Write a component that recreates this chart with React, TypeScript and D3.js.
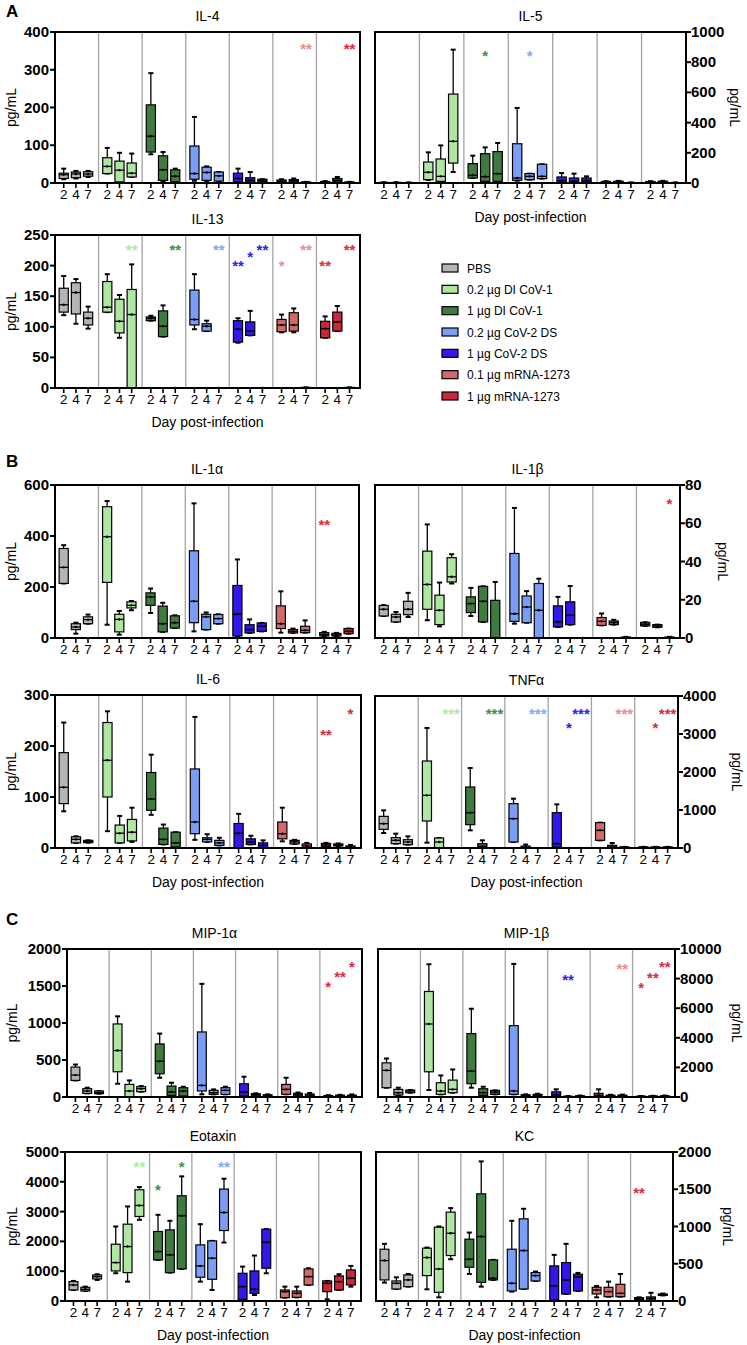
import React from 'react';
import * as d3 from 'd3';

const groups = ['PBS', '0.2 µg DI CoV-1', '1 µg DI CoV-1', '0.2 µg CoV-2 DS', '1 µg CoV-2 DS', '0.1 µg mRNA-1273', '1 µg mRNA-1273'];
const days = ['2', '4', '7'];
const fillColors = ['#b4b4b4', '#aee6a2', '#3f7a3f', '#7b9df5', '#3318ee', '#d36a6a', '#c9283a'];
const starColors = ['#888888', '#a8ec9c', '#3f8f3f', '#80a8ff', '#2a20f0', '#ea8c8c', '#e0283c'];

// each box: [min, q1, median, q3, max], ordered group by group, days 2/4/7
type Box = number[];
type Star = [number, number, string, number, number]; // group, day index, text, color index, value

const il4: Box[] = [
  [10, 12, 22, 26, 38], [12, 14, 24, 29, 32], [16, 18, 24, 30, 32],
  [25, 25, 44, 67, 93], [0, 3, 34, 58, 80], [16, 16, 26, 53, 78],
  [76, 82, 124, 207, 291], [5, 7, 35, 72, 82], [2, 3, 18, 35, 38],
  [6, 10, 25, 98, 175], [5, 7, 28, 42, 44], [4, 5, 19, 29, 29],
  [2, 3, 12, 26, 38], [1, 2, 7, 14, 29], [2, 3, 7, 10, 10],
  [2, 3, 5, 8, 10], [2, 3, 6, 9, 12], [0, 0, 1, 3, 3],
  [0, 1, 2, 4, 5], [2, 3, 7, 12, 16], [0, 0, 1, 3, 3],
];
const il4Stars: Star[] = [[5, 2, '**', 5, 365], [6, 2, '**', 6, 365]];

const il5: Box[] = [
  [0, 0, 2, 4, 5], [0, 0, 2, 4, 5], [0, 0, 1, 3, 4],
  [20, 22, 71, 139, 203], [8, 11, 44, 159, 249], [73, 132, 276, 589, 883],
  [33, 33, 51, 128, 181], [10, 11, 42, 194, 236], [5, 11, 62, 208, 265],
  [15, 18, 33, 260, 497], [22, 22, 44, 62, 62], [29, 29, 44, 124, 124],
  [2, 4, 15, 40, 66], [2, 4, 12, 33, 62], [2, 4, 15, 33, 44],
  [1, 2, 5, 10, 12], [1, 2, 6, 12, 14], [0, 0, 1, 3, 4],
  [1, 2, 5, 10, 12], [1, 2, 6, 12, 14], [0, 0, 1, 3, 4],
];
const il5Stars: Star[] = [[2, 1, '*', 2, 861], [3, 1, '*', 3, 861]];

const il13: Box[] = [
  [119, 124, 136, 163, 183], [105, 121, 156, 172, 178], [97, 103, 114, 124, 133],
  [124, 124, 132, 174, 186], [82, 90, 109, 145, 152], [0, 0, 120, 161, 202],
  [110, 110, 114, 116, 118], [84, 84, 101, 126, 135], [0, 0, 0, 0, 0],
  [96, 103, 112, 160, 186], [93, 93, 101, 105, 110], [0, 0, 0, 0, 0],
  [74, 75, 96, 110, 114], [86, 86, 93, 108, 126], [0, 0, 0, 0, 0],
  [91, 92, 103, 112, 120], [91, 93, 103, 123, 130], [0, 0, 0, 1, 1],
  [82, 82, 97, 109, 117], [93, 93, 108, 124, 134], [0, 0, 0, 1, 1],
];
const il13Stars: Star[] = [
  [1, 2, '**', 1, 231], [2, 2, '**', 2, 231], [3, 2, '**', 3, 231],
  [4, 0, '**', 4, 205], [4, 1, '*', 4, 220], [4, 2, '**', 4, 231],
  [5, 0, '*', 5, 205], [5, 2, '**', 5, 231], [6, 0, '**', 6, 205], [6, 2, '**', 6, 231],
];

const il1a: Box[] = [
  [214, 214, 277, 351, 364], [17, 33, 43, 56, 60], [56, 56, 72, 83, 92],
  [52, 218, 397, 515, 537], [13, 24, 73, 93, 106], [109, 118, 128, 142, 145],
  [98, 128, 161, 177, 194], [24, 24, 56, 125, 138], [39, 39, 60, 87, 89],
  [26, 60, 144, 342, 528], [33, 33, 83, 93, 100], [56, 56, 76, 92, 93],
  [5, 8, 93, 206, 308], [20, 20, 33, 52, 73], [26, 26, 46, 59, 59],
  [21, 37, 56, 126, 183], [20, 20, 26, 33, 37], [21, 21, 30, 46, 69],
  [8, 8, 13, 21, 24], [8, 8, 12, 18, 20], [17, 17, 26, 37, 37],
];
const il1aStars: Star[] = [[6, 0, '**', 6, 456]];

const il1b: Box[] = [
  [11.5, 11.5, 15, 17, 17.2], [8.4, 8.4, 11, 12.4, 13.6], [11, 12.2, 15, 19.2, 23.6],
  [9.3, 15, 28, 45.4, 59.4], [6.1, 7, 14.5, 22.4, 29], [28.5, 29.3, 32, 42, 43.8],
  [11.5, 13.3, 18, 21.5, 26.2], [8.4, 8.4, 19.2, 27, 27], [0, 0, 0, 19.7, 29.3],
  [7.5, 8.7, 12.7, 44.2, 68], [8, 8, 16.2, 22, 24.5], [0, 0, 14.5, 28.5, 31],
  [5.8, 5.8, 8.4, 16.8, 21.5], [7, 7, 11.9, 18.9, 27.2], [0, 0, 0, 0, 0],
  [6.6, 6.6, 8.7, 10.7, 12.8], [7, 7, 8, 8.9, 9.5], [0, 0, 0.2, 0.5, 0.6],
  [6.3, 6.3, 7.2, 8.2, 8.2], [5.6, 5.6, 6.3, 7, 7], [0, 0, 0.2, 0.5, 0.6],
];
const il1bStars: Star[] = [[6, 2, '*', 6, 71.8]];

const il6: Box[] = [
  [72, 87, 119, 187, 246], [10, 10, 17, 22, 23], [10.5, 10.5, 13, 15, 15],
  [33, 100, 172, 246, 268], [10, 10, 29, 45, 63], [12, 14, 31, 56, 79],
  [65, 74, 96, 148, 183], [7, 7, 17, 39, 46], [2, 2, 10, 31, 31],
  [16, 28, 51, 155, 257], [12, 12, 17, 20, 27], [5, 5, 10, 15, 20],
  [0, 0, 29, 48, 67], [7, 7, 12, 18, 24], [0, 0, 5, 10, 15],
  [13, 18, 28, 51, 79], [8, 8, 12, 15, 16], [0, 0, 4, 8, 10],
  [3, 3, 6, 9, 10], [4, 4, 6, 8, 9], [0, 0, 2, 4, 6],
];
const il6Stars: Star[] = [[6, 0, '**', 6, 229], [6, 2, '*', 6, 270]];

const tnfa: Box[] = [
  [395, 491, 640, 833, 991], [114, 114, 202, 272, 377], [88, 88, 158, 219, 307],
  [140, 711, 1386, 2289, 3158], [0, 0, 158, 263, 263], [0, 0, 0, 0, 0],
  [465, 614, 930, 1605, 2105], [0, 0, 44, 114, 202], [0, 0, 0, 0, 0],
  [158, 158, 772, 1167, 1298], [0, 0, 20, 50, 90], [0, 0, 0, 0, 0],
  [0, 26, 114, 930, 1149], [0, 0, 0, 0, 0], [0, 0, 0, 0, 0],
  [202, 202, 465, 667, 667], [0, 0, 30, 70, 132], [0, 0, 10, 30, 30],
  [0, 0, 10, 30, 30], [0, 0, 10, 30, 30], [0, 0, 10, 30, 30],
];
const tnfaStars: Star[] = [
  [1, 2, '***', 1, 3623], [2, 2, '***', 2, 3623], [3, 2, '***', 3, 3623],
  [4, 2, '***', 4, 3623], [4, 1, '*', 4, 3254], [5, 2, '***', 5, 3623],
  [6, 2, '***', 6, 3623], [6, 1, '*', 6, 3254],
];

const mip1a: Box[] = [
  [224, 224, 296, 404, 439], [49, 49, 81, 112, 126], [45, 45, 58, 81, 81],
  [179, 341, 628, 987, 1090], [0, 0, 81, 170, 224], [72, 72, 112, 139, 148],
  [260, 314, 484, 717, 857], [22, 22, 67, 148, 193], [13, 13, 81, 126, 139],
  [36, 81, 157, 879, 1529], [36, 36, 58, 90, 103], [36, 36, 90, 126, 139],
  [0, 13, 67, 179, 274], [10, 10, 30, 45, 50], [5, 5, 15, 30, 35],
  [36, 36, 103, 170, 260], [10, 15, 30, 50, 60], [10, 10, 25, 40, 55],
  [5, 5, 12, 20, 25], [5, 5, 15, 25, 30], [5, 5, 15, 25, 35],
];
const mip1aStars: Star[] = [[6, 0, '*', 6, 1538], [6, 1, '**', 6, 1664], [6, 2, '*', 6, 1807]];

const mip1b: Box[] = [
  [628, 628, 1800, 2309, 2600], [135, 135, 291, 516, 628], [291, 291, 403, 470, 470],
  [471, 1704, 4933, 7130, 8969], [179, 179, 404, 964, 1457], [291, 291, 516, 1143, 1861],
  [628, 897, 1749, 4283, 5964], [112, 112, 291, 560, 695], [179, 179, 336, 448, 448],
  [179, 179, 404, 4821, 8991], [50, 50, 100, 150, 180], [60, 60, 120, 180, 220],
  [30, 50, 150, 350, 520], [10, 10, 30, 50, 60], [20, 20, 50, 80, 100],
  [30, 50, 120, 250, 520], [40, 40, 80, 120, 150], [40, 40, 90, 130, 160],
  [10, 10, 30, 60, 70], [10, 10, 40, 70, 80], [10, 10, 40, 80, 100],
];
const mip1bStars: Star[] = [
  [4, 1, '**', 4, 8139], [5, 2, '**', 5, 8879],
  [6, 0, '*', 6, 7578], [6, 1, '**', 6, 8296], [6, 2, '**', 6, 9036],
];

const eotaxin: Box[] = [
  [370, 370, 538, 650, 673], [336, 336, 392, 460, 482], [706, 740, 818, 874, 897],
  [930, 1009, 1289, 1906, 2500], [650, 953, 1827, 2578, 3173], [2724, 2836, 3206, 3733, 3823],
  [1379, 1379, 1659, 2332, 2892], [953, 953, 1547, 2388, 2691], [1076, 1076, 2859, 3531, 4182],
  [650, 796, 1177, 1883, 2578], [370, 729, 1435, 2018, 2018], [1962, 2365, 2971, 3756, 4103],
  [56, 56, 482, 930, 1155], [202, 258, 392, 1009, 1525], [930, 1099, 1973, 2410, 2410],
  [112, 112, 314, 370, 482], [123, 123, 258, 336, 482], [538, 538, 818, 1076, 1099],
  [56, 314, 594, 673, 673], [370, 370, 650, 841, 897], [482, 538, 762, 1043, 1177],
];
const eotaxinStars: Star[] = [[1, 2, '**', 1, 4630], [2, 0, '*', 2, 3845], [2, 2, '*', 2, 4630], [3, 2, '**', 3, 4630]];

const kc: Box[] = [
  [247, 283, 543, 695, 767], [161, 161, 238, 269, 318], [193, 193, 283, 350, 363],
  [157, 341, 583, 709, 717], [49, 117, 430, 991, 1000], [561, 610, 910, 1193, 1247],
  [363, 453, 561, 830, 919], [193, 251, 865, 1439, 1874], [283, 283, 305, 552, 552],
  [126, 135, 238, 695, 1076], [161, 161, 677, 1103, 1238], [269, 269, 341, 381, 395],
  [13, 13, 202, 471, 619], [94, 94, 283, 516, 767], [135, 135, 323, 359, 377],
  [49, 94, 148, 184, 202], [58, 58, 126, 184, 260], [58, 58, 103, 224, 363],
  [15, 20, 35, 45, 50], [10, 10, 35, 55, 110], [75, 75, 85, 95, 100],
];
const kcStars: Star[] = [[6, 0, '**', 6, 1502]];

// layout (kept separate from data)
const panels = [
  { title: 'IL-4', data: il4, stars: il4Stars, yMax: 400, step: 100, side: 'left', x0: 55, x1: 360, y0: 32, y1: 183, xTitle: false, yLabX: 11 },
  { title: 'IL-5', data: il5, stars: il5Stars, yMax: 1000, step: 200, side: 'right', x0: 375, x1: 686, y0: 32, y1: 183, xTitle: true, yLabX: 735 },
  { title: 'IL-13', data: il13, stars: il13Stars, yMax: 250, step: 50, side: 'left', x0: 55, x1: 360, y0: 235, y1: 388, xTitle: true, yLabX: 11 },
  { title: 'IL-1α', data: il1a, stars: il1aStars, yMax: 600, step: 200, side: 'left', x0: 55, x1: 359, y0: 485, y1: 638, xTitle: false, yLabX: 11 },
  { title: 'IL-1β', data: il1b, stars: il1bStars, yMax: 80, step: 20, side: 'right', x0: 375, x1: 680, y0: 485, y1: 638, xTitle: false, yLabX: 723 },
  { title: 'IL-6', data: il6, stars: il6Stars, yMax: 300, step: 100, side: 'left', x0: 55, x1: 361, y0: 695, y1: 848, xTitle: true, yLabX: 11 },
  { title: 'TNFα', data: tnfa, stars: tnfaStars, yMax: 4000, step: 1000, side: 'right', x0: 375, x1: 678, y0: 696, y1: 848, xTitle: true, yLabX: 737 },
  { title: 'MIP-1α', data: mip1a, stars: mip1aStars, yMax: 2000, step: 500, side: 'left', x0: 67, x1: 362, y0: 949, y1: 1097, xTitle: false, yLabX: 12 },
  { title: 'MIP-1β', data: mip1b, stars: mip1bStars, yMax: 10000, step: 2000, side: 'right', x0: 378, x1: 675, y0: 949, y1: 1097, xTitle: false, yLabX: 737 },
  { title: 'Eotaxin', data: eotaxin, stars: eotaxinStars, yMax: 5000, step: 1000, side: 'left', x0: 65, x1: 361, y0: 1152, y1: 1301, xTitle: true, yLabX: 12 },
  { title: 'KC', data: kc, stars: kcStars, yMax: 2000, step: 500, side: 'right', x0: 376, x1: 673, y0: 1152, y1: 1301, xTitle: true, yLabX: 728 },
];

const FONT = '"Liberation Sans", Arial, sans-serif';

function Panel({ p }: { p: any }) {
  const y = d3.scaleLinear().domain([0, p.yMax]).range([p.y1, p.y0]);
  const gx = d3.scaleBand<number>().domain(d3.range(groups.length)).range([p.x0, p.x1]).padding(0);
  const gw = gx.bandwidth();
  const dx = d3.scalePoint<number>().domain([0, 1, 2]).range([0.2 * gw, 0.76 * gw]);
  const pos = (i: number) => (gx(Math.floor(i / 3)) as number) + (dx(i % 3) as number);
  const bw = gw * 0.21;
  const ticks = d3.range(0, p.yMax + p.step / 2, p.step);
  const left = p.side === 'left';
  const ax = left ? p.x0 : p.x1;
  const midY = (p.y0 + p.y1) / 2;
  return (
    <g>
      <text x={(p.x0 + p.x1) / 2} y={p.y0 - 11} textAnchor="middle" fontSize={14} fontFamily={FONT}>{p.title}</text>
      {d3.range(1, groups.length).map((g) => (
        <line key={'s' + g} x1={gx(g)} x2={gx(g)} y1={p.y0} y2={p.y1} stroke="#a3a3a3" strokeWidth={1.3} />
      ))}
      {p.data.map((b: Box, i: number) => {
        const cx = pos(i);
        const g = Math.floor(i / 3);
        const [mn, q1, md, q3, mx] = b;
        return (
          <g key={'b' + i}>
            <line x1={cx} x2={cx} y1={y(mx)} y2={y(q3)} stroke="#000" strokeWidth={1.3} />
            <line x1={cx} x2={cx} y1={y(q1)} y2={y(mn)} stroke="#000" strokeWidth={1.3} />
            <line x1={cx - 2.5} x2={cx + 2.5} y1={y(mx)} y2={y(mx)} stroke="#000" strokeWidth={2} />
            <line x1={cx - 2.5} x2={cx + 2.5} y1={y(mn)} y2={y(mn)} stroke="#000" strokeWidth={2} />
            <rect x={cx - bw / 2} y={y(q3)} width={bw} height={Math.max(0.01, y(q1) - y(q3))} fill={fillColors[g]} stroke="#000" strokeWidth={1.2} />
            <line x1={cx - bw / 2} x2={cx + bw / 2} y1={y(md)} y2={y(md)} stroke="#000" strokeWidth={1.3} />
            <circle cx={cx} cy={y(md)} r={1.2} fill="#000" />
          </g>
        );
      })}
      <rect x={p.x0} y={p.y0} width={p.x1 - p.x0} height={p.y1 - p.y0} fill="none" stroke="#000" strokeWidth={2} />
      {ticks.map((t: number) => (
        <g key={'t' + t}>
          <line x1={left ? ax - 5 : ax} x2={left ? ax : ax + 5} y1={y(t)} y2={y(t)} stroke="#000" strokeWidth={2} />
          <text x={left ? ax - 6 : ax + 5} y={y(t) + 5} textAnchor={left ? 'end' : 'start'} fontSize={15} fontWeight="bold" fontFamily={FONT}>{t}</text>
        </g>
      ))}
      {p.data.map((_: Box, i: number) => (
        <g key={'x' + i}>
          <line x1={pos(i)} x2={pos(i)} y1={p.y1} y2={p.y1 + 5} stroke="#000" strokeWidth={1.6} />
          <text x={pos(i)} y={p.y1 + 16} textAnchor="middle" fontSize={13.5} fontFamily={FONT}>{days[i % 3]}</text>
        </g>
      ))}
      {p.stars.map((s: Star, k: number) => (
        <text key={'st' + k} x={(gx(s[0]) as number) + (dx(s[1]) as number)} y={y(s[4]) + 8.5} textAnchor="middle" fontSize={15} fontWeight="bold" fill={starColors[s[3]]} fontFamily={FONT}>{s[2]}</text>
      ))}
      {p.xTitle && (
        <text x={(p.x0 + p.x1) / 2} y={p.y1 + 39} textAnchor="middle" fontSize={14} fontFamily={FONT}>Day post-infection</text>
      )}
      <text transform={`translate(${p.yLabX},${midY}) rotate(${left ? -90 : 90})`} textAnchor="middle" dominantBaseline="central" fontSize={14} fontFamily={FONT}>pg/mL</text>
    </g>
  );
}

export default function App() {
  const legendY = d3.scalePoint<number>().domain(d3.range(groups.length)).range([268, 396]);
  return (
    <svg width={747} height={1345} style={{ position: 'absolute', left: 0, top: 0, background: '#fff' }} xmlns="http://www.w3.org/2000/svg">
      <rect x={0} y={0} width={747} height={1345} fill="#fff" />
      <text x={6} y={17} fontSize={17} fontWeight="bold" fontFamily={FONT}>A</text>
      <text x={6} y={467} fontSize={17} fontWeight="bold" fontFamily={FONT}>B</text>
      <text x={6} y={925} fontSize={17} fontWeight="bold" fontFamily={FONT}>C</text>
      {panels.map((p) => <Panel key={p.title} p={p} />)}
      {groups.map((g, i) => (
        <g key={g}>
          <rect x={442} y={(legendY(i) as number) - 4} width={16} height={8} fill={fillColors[i]} stroke="#000" strokeWidth={1.2} />
          <text x={467} y={(legendY(i) as number) + 4.5} fontSize={12} fontFamily={FONT}>{g}</text>
        </g>
      ))}
    </svg>
  );
}
